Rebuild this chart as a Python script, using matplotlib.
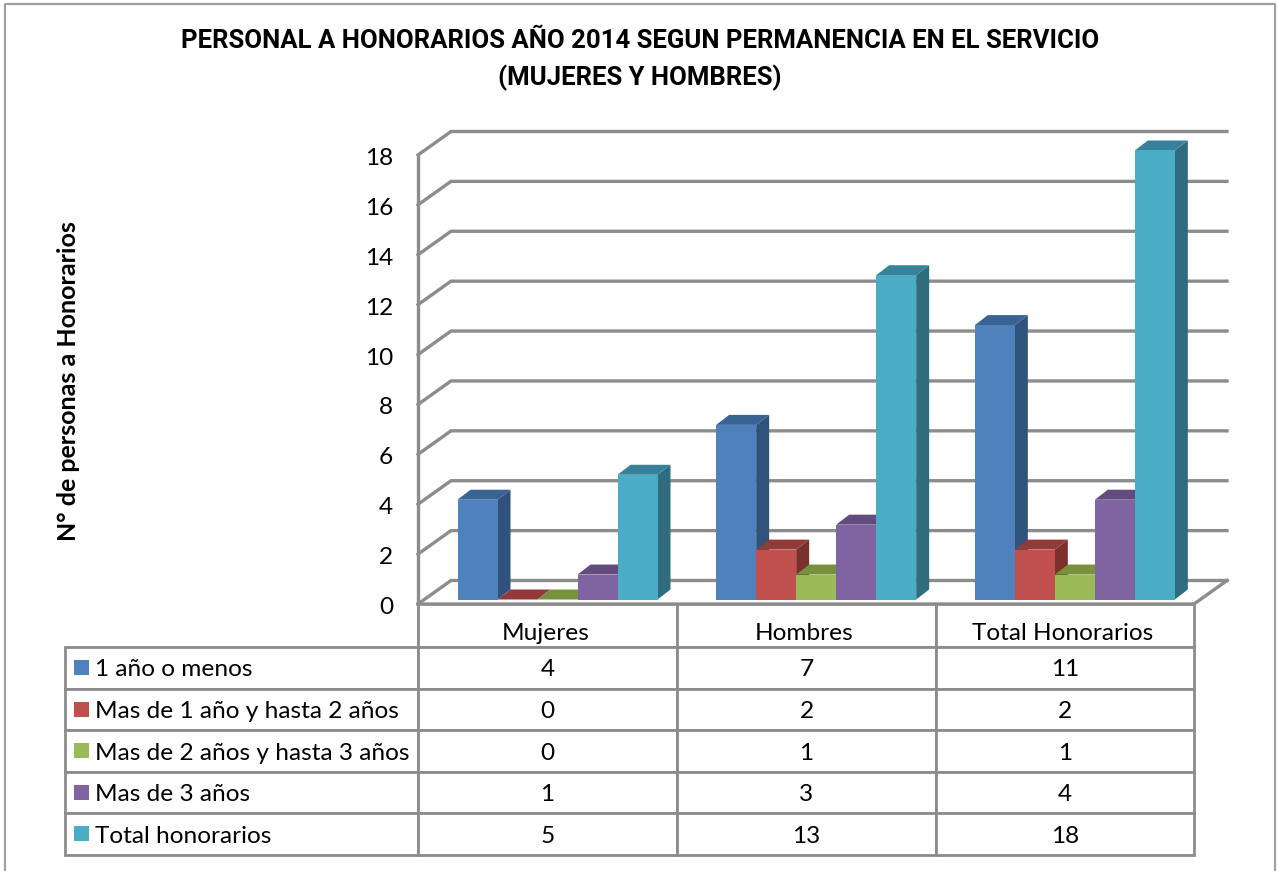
import matplotlib
matplotlib.use("Agg")
import matplotlib.pyplot as plt
from matplotlib.patches import Polygon, Rectangle

plt.rcParams['font.family'] = ['Lato', 'DejaVu Sans']

# -----------------------------
# Data
# -----------------------------
categories = ["Mujeres", "Hombres", "Total Honorarios"]
series_names = ["1 año o menos", "Mas de 1 año y hasta 2 años",
                "Mas de 2 años y hasta 3 años", "Mas de 3 años", "Total honorarios"]
uno_o_menos = [4, 7, 11]
uno_a_dos = [0, 2, 2]
dos_a_tres = [0, 1, 1]
mas_de_tres = [1, 3, 4]
total_honorarios = [5, 13, 18]
series_values = [uno_o_menos, uno_a_dos, dos_a_tres, mas_de_tres, total_honorarios]
y_ticks = list(range(0, 20, 2))

front_colors = ["#4F81BD", "#C0504D", "#9BBB59", "#8064A2", "#4BACC6"]
side_colors = ["#31527B", "#7B302E", "#637A36", "#523F6A", "#2F6C7E"]
top_colors = ["#3A6293", "#933A38", "#76923C", "#624C7E", "#37829A"]
grid_color = "#8C8C8C"
text_size = 17.6

W, H = 1279, 871
fig = plt.figure(figsize=(W / 100, H / 100), dpi=100)
fig.patch.set_facecolor("white")

# outer frame of the chart
fig.add_artist(plt.Line2D([5 / W, 5 / W, 1275 / W, 1275 / W], [0, 1 - 4 / H, 1 - 4 / H, 0],
                          color="#A0A0A0", lw=1.6))

# -----------------------------
# Main axes = front plane of the 3D box
# -----------------------------
left, right, top, bottom = 418, 1194, 155, 604
ax = fig.add_axes([left / W, 1 - bottom / H, (right - left) / W, (bottom - top) / H])
ax.set_xlim(0, 3)
ax.set_ylim(0, 18)
ax.axis("off")

px_x = 3 / (right - left)
px_y = 18 / (bottom - top)
wall_dx, wall_dy = 33 * px_x, 23.5 * px_y
shift_dx, shift_dy = 10 * px_x, 4.5 * px_y
depth_dx, depth_dy = 13 * px_x, 10 * px_y
bar_w = 40 * px_x
group_gap = 29.5 * px_x

for t in y_ticks:
    ax.plot([0, wall_dx, 3 + wall_dx], [t, t + wall_dy, t + wall_dy],
            color=grid_color, lw=2.4, clip_on=False, solid_joinstyle="miter", zorder=1)
    ax.text(-25 * px_x, t - 3.5 * px_y, str(t), ha="right", va="center", fontsize=text_size, color="black")
ax.plot([0, 0], [0, 18], color=grid_color, lw=2.4, clip_on=False, zorder=1)
ax.plot([0, 3, 3 + wall_dx], [0, 0, wall_dy], color=grid_color, lw=2.4, clip_on=False, zorder=1)

for c in range(len(categories)):
    for s, values in enumerate(series_values):
        v = values[c]
        x0 = c + group_gap + shift_dx + s * bar_w
        x1 = x0 + bar_w
        y0 = shift_dy
        y1 = v + shift_dy
        z = 3 + c * 10 + s
        ax.add_patch(Polygon([(x1, y0), (x1 + depth_dx, y0 + depth_dy), (x1 + depth_dx, y1 + depth_dy), (x1, y1)],
                             closed=True, fc=side_colors[s], ec="none", clip_on=False, zorder=z))
        ax.add_patch(Polygon([(x0, y1), (x1, y1), (x1 + depth_dx, y1 + depth_dy), (x0 + depth_dx, y1 + depth_dy)],
                             closed=True, fc=top_colors[s], ec="none", clip_on=False, zorder=z))
        ax.add_patch(Rectangle((x0, y0), bar_w, v, fc=front_colors[s], ec="none", clip_on=False, zorder=z + 0.5))

# -----------------------------
# Data table under the chart
# -----------------------------
t_left, t_right, t_top, t_bottom = 65, 1194, 604, 855
tax = fig.add_axes([t_left / W, 1 - t_bottom / H, (t_right - t_left) / W, (t_bottom - t_top) / H])
tax.set_xlim(t_left, t_right)
tax.set_ylim(t_bottom, t_top)
tax.axis("off")

cell_text = [["", "", "", ""]]
for name, values in zip(series_names, series_values):
    cell_text.append([name] + [str(v) for v in values])

col_px = [353, 259, 259, 258]
row_height = [43, 41.6, 41.6, 41.6, 41.6, 41.6]
table = tax.table(cellText=cell_text, cellLoc="center", colWidths=[w / 1129 for w in col_px], bbox=[0, 0, 1, 1])
table.auto_set_font_size(False)
for (r, c), cell in table.get_celld().items():
    cell.set_height(row_height[r] / 251)
    cell.set_edgecolor(grid_color)
    cell.set_linewidth(2)
    cell.set_text_props(fontsize=text_size, color="black", va="center_baseline")
    if c == 0:
        cell.PAD = 30 / 353
        cell.set_text_props(ha="left", fontsize=text_size)
    if r == 0 and c == 0:
        cell.visible_edges = "R"

# header labels sit low in their row, so they are placed by hand
x_pos = t_left + col_px[0]
for c, name in enumerate(categories):
    tax.text(x_pos + col_px[c + 1] / 2 - 2, t_top + 30, name, ha="center", va="center", fontsize=text_size, zorder=6)
    x_pos += col_px[c + 1]

y_pos = t_top + row_height[0]
for s in range(len(series_names)):
    tax.add_patch(Rectangle((74, y_pos + 13), 15, 15, fc=front_colors[s], ec="none", zorder=5))
    y_pos += row_height[s + 1]

# -----------------------------
# Titles
# -----------------------------
fig.text(640 / W, 1 - 41 / H, "PERSONAL A HONORARIOS AÑO 2014 SEGUN PERMANENCIA EN EL SERVICIO",
         ha="center", va="center", fontsize=18.5, fontweight="bold", family="Roboto")
fig.text(640 / W, 1 - 78 / H, "(MUJERES Y HOMBRES)", ha="center", va="center",
         fontsize=18.5, fontweight="bold", family="Roboto")
fig.text(69 / W, 1 - 381 / H, "N° de personas a Honorarios", rotation=90, ha="center", va="center",
         fontsize=18, fontweight="bold")

fig.savefig("out.png", dpi=100)
